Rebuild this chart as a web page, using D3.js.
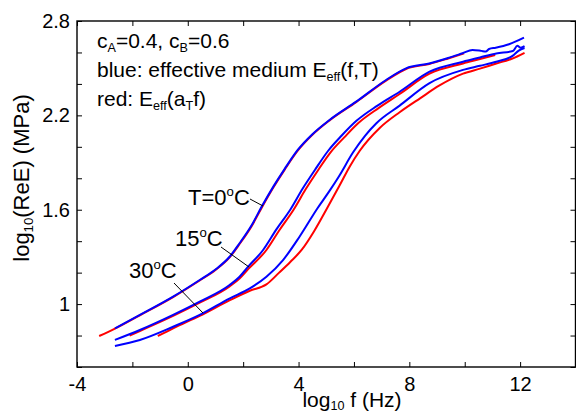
<!DOCTYPE html>
<html><head><meta charset="utf-8">
<script src="https://cdn.jsdelivr.net/npm/d3@7/dist/d3.min.js"></script>
<style>
body{margin:0;background:#fff;}
text{font-family:"Liberation Sans",Arial,sans-serif;fill:#000;}
</style></head><body>
<svg id="chart" width="576" height="415"></svg>
<script>
// [log10 f (Hz), log10(ReE) (MPa)] pairs for each temperature
// red: E_eff(a_T f)
const red0C = [[-3.20,0.797],[-2.63,0.844],[-1.73,0.929],[-0.53,1.045],[0.43,1.150],[1.00,1.217],[1.51,1.297],[1.87,1.382],[2.30,1.494],[2.67,1.613],[3.10,1.744],[3.50,1.855],[3.97,1.975],[4.50,2.076],[5.12,2.168],[6.08,2.284],[7.16,2.421],[7.88,2.495],[8.72,2.527],[9.40,2.562],[9.98,2.594]];
const red15C = [[-2.10,0.800],[-1.73,0.829],[-0.53,0.925],[0.43,1.009],[1.51,1.113],[1.87,1.163],[2.18,1.222],[2.84,1.344],[3.30,1.468],[3.82,1.600],[4.25,1.728],[4.71,1.853],[5.17,1.968],[5.65,2.060],[6.15,2.150],[6.90,2.248],[7.65,2.336],[8.73,2.465],[9.94,2.530],[10.55,2.558],[11.10,2.584]];
const red30C = [[-1.08,0.797],[-0.53,0.846],[0.43,0.925],[1.52,1.025],[2.24,1.085],[2.84,1.125],[3.30,1.200],[3.70,1.268],[4.11,1.344],[4.55,1.460],[5.00,1.600],[5.49,1.757],[5.85,1.875],[6.21,1.975],[6.93,2.120],[7.65,2.220],[8.40,2.310],[9.09,2.390],[9.94,2.465],[10.55,2.497],[11.14,2.530],[11.70,2.560],[12.16,2.598]];
// blue: effective medium E_eff(f,T)
const blue0C = [[-2.63,0.846],[-1.73,0.931],[-0.53,1.047],[0.43,1.153],[1.00,1.220],[1.51,1.301],[1.87,1.387],[2.30,1.500],[2.67,1.620],[3.10,1.750],[3.50,1.860],[3.97,1.980],[4.50,2.080],[5.12,2.171],[6.08,2.287],[7.16,2.425],[7.88,2.499],[8.72,2.530],[9.40,2.565],[9.92,2.595],[10.28,2.616],[10.60,2.610],[10.76,2.606],[10.88,2.622],[11.12,2.630],[11.60,2.652],[12.14,2.694]];
const blue15C = [[-2.63,0.772],[-1.73,0.835],[-0.53,0.931],[0.43,1.015],[1.51,1.121],[1.87,1.174],[2.18,1.238],[2.72,1.344],[3.20,1.475],[3.70,1.600],[4.15,1.735],[4.59,1.853],[5.07,1.975],[5.55,2.070],[6.09,2.165],[6.85,2.262],[7.65,2.350],[8.73,2.478],[9.94,2.541],[10.55,2.568],[11.14,2.594],[11.74,2.609],[11.90,2.642],[12.02,2.630],[12.16,2.640]];
const blue30C = [[-2.63,0.734],[-1.73,0.772],[-0.53,0.856],[0.43,0.931],[1.52,1.037],[2.24,1.100],[2.84,1.174],[3.44,1.280],[4.04,1.430],[4.69,1.611],[5.10,1.715],[5.45,1.810],[5.97,1.965],[6.40,2.070],[6.81,2.150],[7.65,2.262],[8.73,2.405],[9.94,2.489],[10.55,2.515],[11.14,2.541],[11.74,2.580],[11.95,2.612],[12.16,2.628]];

const xTicks = [-4,-2,0,2,4,6,8,10,12,14];
const xTickLabels = {"-4":"-4","0":"0","4":"4","8":"8","12":"12"};
const yTicks = [0.6,0.8,1.0,1.2,1.4,1.6,1.8,2.0,2.2,2.4,2.6,2.8];
const yTickLabels = {"1":"1","1.6":"1.6","2.2":"2.2","2.8":"2.8"};

const svg = d3.select("#chart");
const L = 77, R = 575.5, T = 21, B = 367;
const x = d3.scaleLinear().domain([-4,14]).range([L,R]);
const y = d3.scaleLinear().domain([0.6,2.8]).range([B,T]);
const tickFs = 20, titleFs = 21, noteFs = 21, tempFs = 22;

// axes with inward ticks on all four sides
const fmtX = d => xTickLabels[String(+d.toFixed(2))] || "";
const fmtY = d => yTickLabels[String(+d.toFixed(2))] || "";
const tk = 5;
const gB = svg.append("g").attr("transform",`translate(0,${B})`)
  .call(d3.axisBottom(x).tickValues(xTicks).tickSize(-tk).tickPadding(10).tickFormat(fmtX));
const gT = svg.append("g").attr("transform",`translate(0,${T})`)
  .call(d3.axisTop(x).tickValues(xTicks).tickSize(-tk).tickFormat(""));
const gL = svg.append("g").attr("transform",`translate(${L},0)`)
  .call(d3.axisLeft(y).tickValues(yTicks).tickSize(-tk).tickPadding(7).tickFormat(fmtY));
const gR = svg.append("g").attr("transform",`translate(${R},0)`)
  .call(d3.axisRight(y).tickValues(yTicks).tickSize(-tk).tickFormat(""));
[gB,gT,gL,gR].forEach(g=>{
  g.select(".domain").remove();
  g.selectAll(".tick line").attr("stroke","#000").attr("stroke-width",1);
  g.selectAll(".tick text").attr("font-size",tickFs).attr("font-family","Liberation Sans, Arial, sans-serif").attr("fill","#000");
});
svg.append("rect").attr("x",L).attr("y",T).attr("width",R-L).attr("height",B-T)
  .attr("fill","none").attr("stroke","#000").attr("stroke-width",1.4);

// curves: red underneath, blue on top
const line = d3.line().x(d=>x(d[0])).y(d=>y(d[1])).curve(d3.curveMonotoneX);
const series = [
  {d:red0C,c:"#ff0000"},{d:red15C,c:"#ff0000"},{d:red30C,c:"#ff0000"},
  {d:blue0C,c:"#0000ff"},{d:blue15C,c:"#0000ff"},{d:blue30C,c:"#0000ff"}
];
svg.append("g").selectAll("path").data(series).join("path")
  .attr("d",s=>line(s.d)).attr("fill","none").attr("stroke",s=>s.c).attr("stroke-width",2);

// axis titles
const yl = svg.append("text").attr("transform","translate(29,178) rotate(-90)")
  .attr("text-anchor","middle").attr("font-size",22);
yl.append("tspan").text("log");
yl.append("tspan").attr("font-size",22*0.6).attr("dy",4).text("10");
yl.append("tspan").attr("dy",-4).text("(ReE) (MPa)");

const xl = svg.append("text").attr("x",352).attr("y",407)
  .attr("text-anchor","middle").attr("font-size",titleFs);
xl.append("tspan").text("log");
xl.append("tspan").attr("font-size",titleFs*0.6).attr("dy",3).text("10");
xl.append("tspan").attr("dy",-3).text(" f (Hz)");

// annotation block
const sub = 0.6;
const a1 = svg.append("text").attr("x",97).attr("y",48).attr("font-size",noteFs);
a1.append("tspan").text("c");
a1.append("tspan").attr("font-size",noteFs*sub).attr("dy",4).text("A");
a1.append("tspan").attr("dy",-4).text("=0.4, c");
a1.append("tspan").attr("font-size",noteFs*sub).attr("dy",4).text("B");
a1.append("tspan").attr("dy",-4).text("=0.6");

const a2 = svg.append("text").attr("x",97).attr("y",77).attr("font-size",noteFs);
a2.append("tspan").text("blue: effective medium E");
a2.append("tspan").attr("font-size",noteFs*sub).attr("dy",4).text("eff");
a2.append("tspan").attr("dy",-4).text("(f,T)");

const a3 = svg.append("text").attr("x",97).attr("y",106).attr("font-size",noteFs);
a3.append("tspan").text("red: E");
a3.append("tspan").attr("font-size",noteFs*sub).attr("dy",4).text("eff");
a3.append("tspan").attr("dy",-4).text("(a");
a3.append("tspan").attr("font-size",noteFs*sub).attr("dy",4).text("T");
a3.append("tspan").attr("dy",-4).text("f)");

// temperature labels with leader lines
const tempLabels = [
  {t:"T=0", x:188, y:205, lx:[250,199, 263,206]},
  {t:"15", x:175, y:246, lx:[221,247, 249,267]},
  {t:"30", x:129, y:278, lx:[174,283, 203,313]}
];
tempLabels.forEach(p=>{
  const t = svg.append("text").attr("x",p.x).attr("y",p.y).attr("font-size",tempFs);
  t.append("tspan").text(p.t);
  t.append("tspan").attr("font-size",tempFs*0.6).attr("dy",-9).text("o");
  t.append("tspan").attr("dy",9).text("C");
  svg.append("line").attr("x1",p.lx[0]).attr("y1",p.lx[1]).attr("x2",p.lx[2]).attr("y2",p.lx[3])
    .attr("stroke","#000").attr("stroke-width",1);
});
</script>
</body></html>
